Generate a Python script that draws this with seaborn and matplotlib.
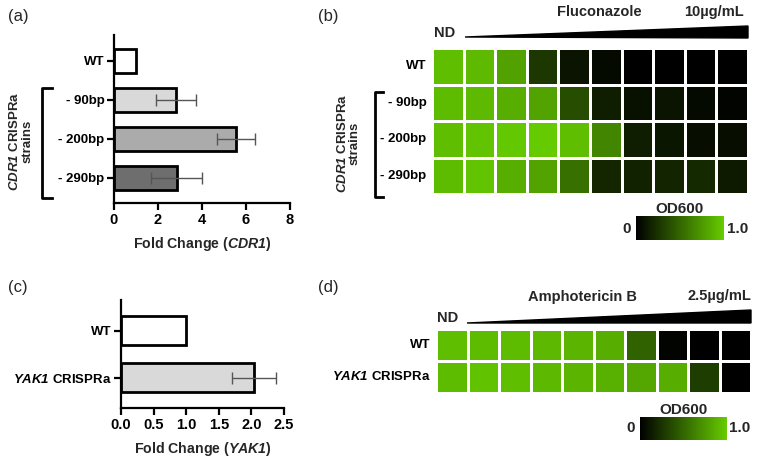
import numpy as np
import pandas as pd
import seaborn as sns
import matplotlib.pyplot as plt
from matplotlib.colors import LinearSegmentedColormap
from matplotlib.lines import Line2D
from matplotlib.patches import Polygon

# panel (a): CDR1 fold change
cdr1_strains = ["WT", "- 90bp", "- 200bp", "- 290bp"]
cdr1_fold = [1.0, 2.82, 5.55, 2.85]
cdr1_sd = [0.0, 0.90, 0.88, 1.17]
cdr1_colors = ["#ffffff", "#d9d9d9", "#ababab", "#6e6e6e"]

# panel (c): YAK1 fold change
yak1_strains = ["WT", r"$\mathbfit{YAK1}$ CRISPRa"]
yak1_fold = [1.0, 2.04]
yak1_sd = [0.0, 0.33]
yak1_colors = ["#ffffff", "#d9d9d9"]

# panel (b): OD600 under fluconazole gradient
flu_rows = ["WT", "- 90bp", "- 200bp", "- 290bp"]
flu_od = [
    [0.93, 0.91, 0.79, 0.27, 0.10, 0.05, 0.00, 0.00, 0.00, 0.00],
    [0.92, 0.91, 0.85, 0.80, 0.38, 0.15, 0.08, 0.10, 0.05, 0.02],
    [0.93, 0.96, 0.98, 0.99, 0.93, 0.65, 0.15, 0.11, 0.07, 0.07],
    [0.92, 0.96, 0.85, 0.80, 0.55, 0.19, 0.17, 0.18, 0.20, 0.13],
]

# panel (d): OD600 under amphotericin B gradient
amb_rows = ["WT", r"$\mathbfit{YAK1}$ CRISPRa"]
amb_od = [
    [0.93, 0.92, 0.92, 0.90, 0.88, 0.85, 0.48, 0.02, 0.00, 0.00],
    [0.92, 0.95, 0.93, 0.90, 0.88, 0.86, 0.82, 0.85, 0.30, 0.00],
]

W, H = 760, 461
sns.set_theme(style="white")
plt.rcParams["font.family"] = ["Liberation Sans", "DejaVu Sans"]
plt.rcParams["mathtext.fontset"] = "custom"
plt.rcParams["mathtext.rm"] = "Liberation Sans:bold"
plt.rcParams["mathtext.bf"] = "Liberation Sans:bold"
plt.rcParams["mathtext.it"] = "Liberation Sans:italic:bold"
plt.rcParams["mathtext.bfit"] = "Liberation Sans:italic:bold"

fig = plt.figure(figsize=(W / 100, H / 100), dpi=100)
FS = 9.5
HFS = 10.5


def box(x0, y0, x1, y1):
    return [x0 / W, 1 - y1 / H, (x1 - x0) / W, (y1 - y0) / H]


def ftext(x, y, s, **kw):
    kw.setdefault("fontsize", HFS)
    kw.setdefault("fontweight", "bold")
    kw.setdefault("ha", "center")
    kw.setdefault("va", "center")
    fig.text(x / W, 1 - y / H, s, **kw)


def fline(xs, ys, lw=2):
    fig.add_artist(Line2D([x / W for x in xs], [1 - y / H for y in ys],
                          color="black", lw=lw, solid_capstyle="projecting"))


def bar_panel(rect, names, vals, sds, colors, xmax, step, xlabel, fmt):
    ax = fig.add_axes(rect)
    df = pd.DataFrame({"strain": names, "fold": vals})
    sns.barplot(data=df, x="fold", y="strain", hue="strain", palette=colors,
                orient="h", width=0.62, edgecolor="black", linewidth=2,
                legend=False, ax=ax)
    ax.errorbar(vals[1:], np.arange(1, len(vals)), xerr=sds[1:], fmt="none",
                ecolor="#555555", elinewidth=1, capsize=4, capthick=1)
    n = len(names)
    ax.set_ylim(n - 1 + 0.65, -0.66)
    ax.set_xlim(0, xmax)
    ticks = np.arange(0, xmax + step / 2, step)
    ax.set_xticks(ticks)
    ax.set_xticklabels([fmt.format(t) for t in ticks], fontweight="bold", fontsize=FS + 1)
    ax.set_yticks(range(n))
    ax.set_yticklabels(names, fontweight="bold", fontsize=FS)
    ax.set_xlabel(xlabel, fontweight="bold", fontsize=10.2, labelpad=6)
    ax.set_ylabel("")
    sns.despine(ax=ax)
    for s in ["left", "bottom"]:
        ax.spines[s].set_linewidth(1.6)
        ax.spines[s].set_color("black")
    ax.tick_params(axis="both", length=5, width=1.6, color="black", pad=2,
                   left=True, bottom=True, labelcolor="black")
    return ax


cmap = LinearSegmentedColormap.from_list("od", ["#000000", "#66cc00"])


def heat_panel(rect, cbar_rect, rows, od):
    ax = fig.add_axes(rect)
    cax = fig.add_axes(cbar_rect)
    df = pd.DataFrame(od, index=rows)
    sns.heatmap(df, cmap=cmap, vmin=0, vmax=1, linewidths=2, linecolor="white",
                cbar_ax=cax, cbar_kws={"orientation": "horizontal"}, ax=ax)
    ax.set_xticks([])
    ax.set_yticklabels(rows, rotation=0, fontweight="bold", fontsize=FS)
    ax.tick_params(axis="y", length=0, pad=4, labelcolor="black")
    cax.set_xticks([])
    ax.collections[0].colorbar.outline.set_visible(False)
    return ax


# (a)
bar_panel(box(114, 35, 290, 203), cdr1_strains, cdr1_fold, cdr1_sd, cdr1_colors,
          8, 2, r"Fold Change ($\mathbfit{CDR1}$)", "{:.0f}")
fline([52, 42, 42, 52], [88, 88, 198, 198])
ftext(21, 141, r"$\mathbfit{CDR1}$ CRISPRa" + "\nstrains", rotation=90,
      linespacing=1.0, fontsize=FS)

# (c)
bar_panel(box(121, 300, 284, 408), yak1_strains, yak1_fold, yak1_sd, yak1_colors,
          2.5, 0.5, r"Fold Change ($\mathbfit{YAK1}$)", "{:.1f}")

# (b)
heat_panel(box(432, 48, 748, 194), box(636, 216, 724, 240), flu_rows, flu_od)
fig.add_artist(Polygon([(465 / W, 1 - 37 / H), (748 / W, 1 - 26 / H), (748 / W, 1 - 38 / H)],
                       closed=True, color="black", transform=fig.transFigure))
ftext(445, 33, "ND")
ftext(599, 12, "Fluconazole")
ftext(714, 12, "10µg/mL")
ftext(679, 209, "OD600", fontsize=11)
ftext(627, 229, "0", fontsize=11)
ftext(738, 229, "1.0", fontsize=11)
fline([383, 375, 375, 383], [92, 92, 197, 197])
ftext(348, 143, r"$\mathbfit{CDR1}$ CRISPRa" + "\nstrains", rotation=90,
      linespacing=1.0, fontsize=FS)

# (d)
heat_panel(box(436, 329, 751, 393), box(640, 417, 727, 440), amb_rows, amb_od)
fig.add_artist(Polygon([(467 / W, 1 - 323 / H), (751 / W, 1 - 310 / H), (751 / W, 1 - 323 / H)],
                       closed=True, color="black", transform=fig.transFigure))
ftext(448, 318, "ND")
ftext(582, 297, "Amphotericin B")
ftext(719, 296, "2.5µg/mL")
ftext(683, 410, "OD600", fontsize=11)
ftext(631, 428, "0", fontsize=11)
ftext(740, 428, "1.0", fontsize=11)

# panel letters
ftext(8, 17, "(a)", ha="left", fontweight="normal", fontsize=12)
ftext(318, 17, "(b)", ha="left", fontweight="normal", fontsize=12)
ftext(8, 287, "(c)", ha="left", fontweight="normal", fontsize=12)
ftext(318, 287, "(d)", ha="left", fontweight="normal", fontsize=12)

fig.savefig("out.png", dpi=100)
